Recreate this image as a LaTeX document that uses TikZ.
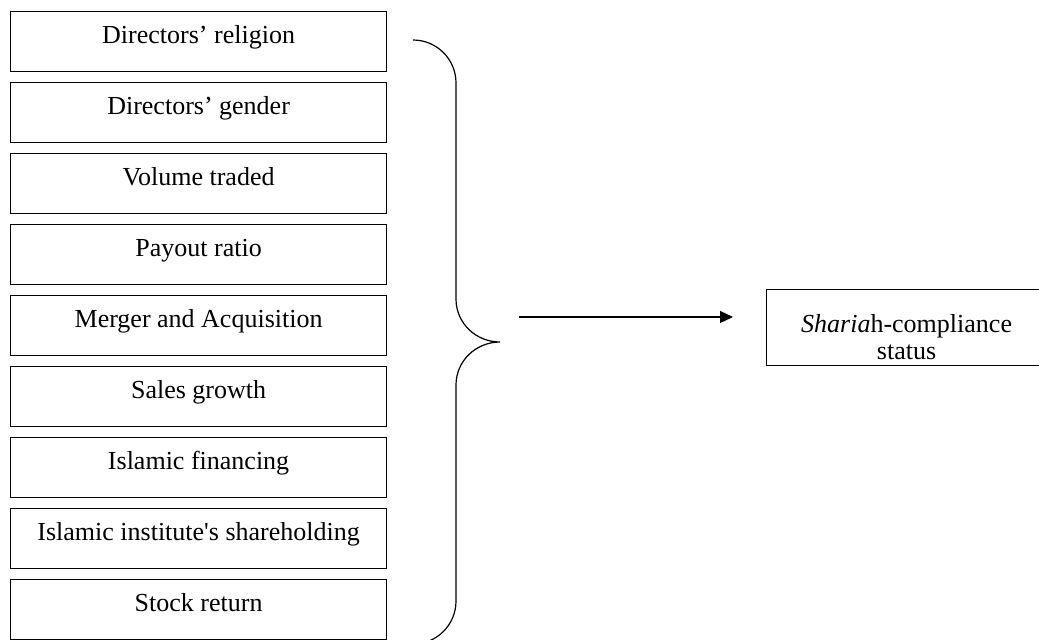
\documentclass[tikz,border=0pt]{standalone}
\usepackage{fontspec}
\setmainfont{Liberation Serif}
\usepackage{tikz}
\usetikzlibrary{arrows.meta}
\usetikzlibrary{positioning}

\begin{document}
\begin{tikzpicture}[x=1pt, y=1pt,
                    font=\fontsize{13pt}{13.5pt}\selectfont,
                    node distance=4.875pt,
                    factor/.style={draw, line width=0.6pt, minimum width=188pt,
                                   text height=16pt, text depth=14pt, inner ysep=0pt},
                    outcome/.style={draw, line width=0.6pt, minimum width=140pt,
                                    minimum height=38pt, inner ysep=0pt, align=center,
                                    text height=35pt, text depth=3pt}]
        \useasboundingbox (0,0) rectangle (519.5,-319.5);
        % independent variables
        \node[factor, anchor=north west] (religion) at (5,-5.5) {Directors’ religion};
        \node[factor, below=of religion] (gender) {Directors’ gender};
        \node[factor, below=of gender] (volume) {Volume traded};
        \node[factor, below=of volume] (payout) {Payout ratio};
        \node[factor, below=of payout] (merger) {Merger and Acquisition};
        \node[factor, below=of merger] (sales) {Sales growth};
        \node[factor, below=of sales] (financing) {Islamic financing};
        \node[factor, below=of financing] (institute) {Islamic institute\textquotesingle s shareholding};
        \node[factor, below=of institute] (stock) {Stock return};
        % brace
        \coordinate (tip) at (250,-171);
        \draw[line width=0.6pt] (206.5,-20) to[out=0,in=90] (228,-41.5) -- (228,-149.5)
                to[out=-90,in=180] (tip) to[out=180,in=90] (228,-192.5) -- (228,-300.5)
                to[out=-90,in=0] (206.5,-322);
        % dependent variable
        \node[outcome, anchor=north west] (shariah) at (383,-144.5)
                {\textit{Sharia}h-compliance\\status};
        \coordinate (start) at (259.5,-158.5);
        \draw[line width=0.6pt, -{Triangle[length=6.5pt,width=6pt]}, shorten >=16.5pt]
                (start) -- (start -| shariah.west);
\end{tikzpicture}
\end{document}
